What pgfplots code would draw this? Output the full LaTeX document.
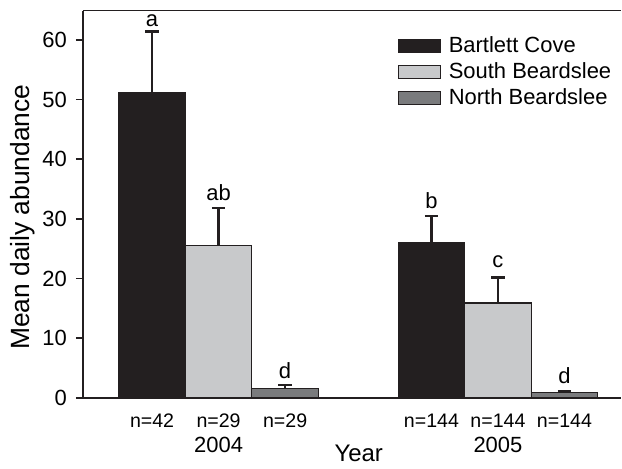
\documentclass[border=0pt]{standalone}
\usepackage{fontspec}
\setmainfont{Liberation Sans}
\usepackage{pgfplots}
\pgfplotsset{compat=1.18}

\definecolor{bcove}{HTML}{231F20}
\definecolor{sbeard}{HTML}{C8C9CB}
\definecolor{nbeard}{HTML}{7A7B7D}
\definecolor{edge}{HTML}{231F20}

% mean daily abundance and upper standard error, by site and year
% x positions: 2004 group at 1.04..3.04, 2005 group at 5.24..7.24
\pgfplotstableread{
x     y     e
1.04  51.1  10.3
5.24  26.0  4.5
}\bartlett
\pgfplotstableread{
x     y     e
2.04  25.5  6.3
6.24  15.9  4.3
}\southb
\pgfplotstableread{
x     y     e
3.04  1.6   0.5
7.24  0.85  0.3
}\northb

\pgfplotsset{
  sitebar/.style={
    bar shift=0pt, draw=edge, line width=0.6pt, fill=#1,
    error bars/y dir=plus,
    error bars/y explicit,
    error bars/error bar style={line width=1.3pt, color=edge},
    error bars/error mark options={line width=1.2pt, mark size=3.33pt, color=edge, rotate=90},
  },
}
\newcommand{\yr}[1]{\fontsize{11}{13}\selectfont #1}

\begin{document}
\begin{tikzpicture}
\begin{axis}[
  scale only axis,
  width=269.5pt, height=193.8pt,
  xmin=0, xmax=8.093, ymin=0, ymax=64.9,
  axis y line*=left,
  axis line style={line width=0.8pt, color=edge},
  ybar, bar width=1,
  ytick={0,10,...,60},
  tick align=outside,
  major tick length=3.5pt,
  y tick style={line width=0.8pt, color=edge},
  yticklabel style={font=\fontsize{11}{13}\selectfont, xshift=-1pt},
  /pgf/number format/assume math mode=true,
  xtick={1.04,2.04,3.04,5.24,6.24,7.24},
  xticklabels={n=42,{n=29\\\yr{2004}},n=29,n=144,{n=144\\\yr{2005}},n=144},
  xticklabel style={align=center, font=\fontsize{9.8}{12.7}\selectfont, yshift=-1pt},
  x tick style={draw=none},
  xticklabel pos=lower,
  ylabel={Mean daily abundance},
  ylabel style={font=\fontsize{13.2}{15}\selectfont, at={(axis description cs:-0.1113,0.4665)}, anchor=center},
  xlabel={Year},
  xlabel style={font=\fontsize{12}{14}\selectfont, at={(axis description cs:0.5124,-0.1445)}, anchor=center},
  legend style={draw=none, fill=none, at={(axis description cs:0.584,0.945)}, anchor=north west,
    font=\fontsize{11}{13}\selectfont, row sep=-0.5pt, column sep=2pt, inner sep=0pt,
    nodes={inner sep=2pt}},
  legend cell align=left,
  legend image code/.code={\draw[#1, line width=0.6pt] (0pt,-3.25pt) rectangle (21pt,3.25pt);},
]
\addplot[sitebar=bcove] table[x=x, y=y, y error=e] {\bartlett};
\addplot[sitebar=sbeard] table[x=x, y=y, y error=e] {\southb};
\addplot[sitebar=nbeard] table[x=x, y=y, y error=e] {\northb};
\legend{Bartlett Cove, South Beardslee, North Beardslee}

% significance groupings
\begin{scope}[every node/.style={anchor=base, inner sep=0pt, font=\fontsize{11}{13}\selectfont}]
\node at (axis cs:1.04,62.2) {a};
\node at (axis cs:2.04,33.0) {ab};
\node at (axis cs:3.04,3.3) {d};
\node at (axis cs:5.24,31.8) {b};
\node at (axis cs:6.24,21.8) {c};
\node at (axis cs:7.24,2.4) {d};
\end{scope}
\end{axis}
\path (current axis.south west) ++(-41.5pt,-33.35pt) rectangle ([yshift=5.35pt]current axis.north east);
\end{tikzpicture}
\end{document}
